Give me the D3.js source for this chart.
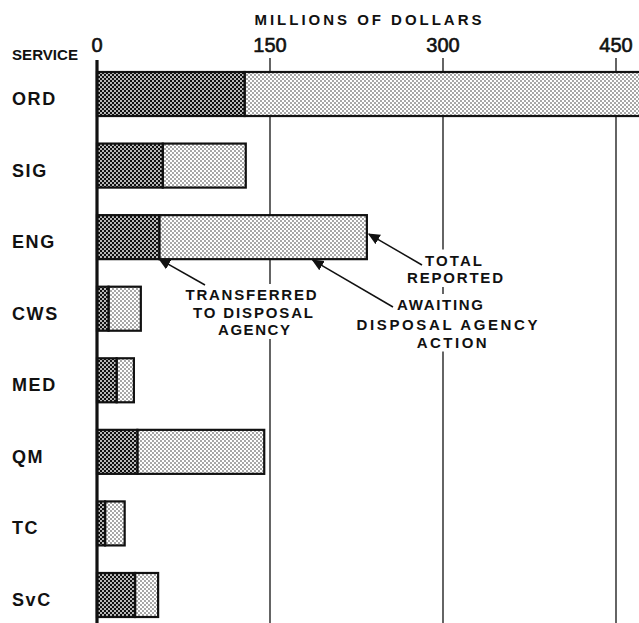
<!DOCTYPE html>
<html>
<head>
<meta charset="utf-8">
<script src="https://cdn.jsdelivr.net/npm/d3@7"></script>
<style>
  html, body { margin: 0; padding: 0; background: #fff; }
  svg { display: block; }
  text { font-family: "Liberation Sans", Arial, sans-serif; font-weight: bold; fill: #111; }
</style>
</head>
<body>
<script>
// ---- data ----
const categories = ["ORD", "SIG", "ENG", "CWS", "MED", "QM", "TC", "SvC"];
const transferred = [128, 57, 54, 10, 17, 35, 7, 33];     // transferred to disposal agency
const totalReported = [480, 129, 234, 38, 32, 145, 24, 53]; // total reported
const tickValues = [0, 150, 300, 450];
const axisTitle = "MILLIONS OF DOLLARS";
const categoryTitle = "SERVICE";

const W = 639, H = 623;
const svg = d3.select("body").append("svg").attr("width", W).attr("height", H);

const defs = svg.append("defs");
const dark = defs.append("pattern").attr("id", "dark").attr("patternUnits", "userSpaceOnUse")
  .attr("width", 4).attr("height", 4);
dark.append("rect").attr("width", 4).attr("height", 4).attr("fill", "#111");
dark.append("circle").attr("cx", 1).attr("cy", 1).attr("r", 0.95).attr("fill", "#fff");
dark.append("circle").attr("cx", 3).attr("cy", 3).attr("r", 0.95).attr("fill", "#fff");

const light = defs.append("pattern").attr("id", "light").attr("patternUnits", "userSpaceOnUse")
  .attr("width", 4).attr("height", 4);
light.append("rect").attr("width", 4).attr("height", 4).attr("fill", "#fff");
light.append("circle").attr("cx", 1).attr("cy", 1).attr("r", 0.72).attr("fill", "#222");
light.append("circle").attr("cx", 3).attr("cy", 3).attr("r", 0.72).attr("fill", "#222");

const arrow = defs.append("marker").attr("id", "arrow").attr("viewBox", "0 0 10 10")
  .attr("refX", 9).attr("refY", 5).attr("markerWidth", 12).attr("markerHeight", 12)
  .attr("markerUnits", "userSpaceOnUse").attr("orient", "auto");
arrow.append("path").attr("d", "M0,0.5 L10,5 L0,9.5 Z").attr("fill", "#111");

const x = d3.scaleLinear().domain([0, 450]).range([97, 616]);
const y = d3.scaleBand().domain(categories).range([72, 617]).paddingInner(0.385).paddingOuter(0);

// gridlines + ticks
const gridTop = 58, gridBottom = 623;
svg.append("g").selectAll("line").data(tickValues.filter(v => v > 0)).join("line")
  .attr("x1", d => x(d)).attr("x2", d => x(d))
  .attr("y1", gridTop).attr("y2", gridBottom)
  .attr("stroke", "#111").attr("stroke-width", 1.3);

// tick labels
svg.append("g").selectAll("text").data(tickValues).join("text")
  .attr("x", d => x(d)).attr("y", 52)
  .attr("text-anchor", "middle").attr("font-size", 20)
  .style("font-weight", "normal").attr("stroke", "#111").attr("stroke-width", 0.6)
  .text(d => d);

svg.append("text").attr("x", 368).attr("y", 25).attr("text-anchor", "middle")
  .attr("font-size", 15).attr("textLength", 227).attr("lengthAdjust", "spacing")
  .text(axisTitle);

svg.append("text").attr("x", 12).attr("y", 60)
  .attr("font-size", 15).attr("textLength", 66).attr("lengthAdjust", "spacingAndGlyphs")
  .text(categoryTitle);

// bars
const rows = categories.map((c, i) => ({ c, t: transferred[i], tot: totalReported[i] }));
const bars = svg.append("g");
bars.selectAll("rect.light").data(rows).join("rect").attr("class", "light")
  .attr("x", d => x(d.t)).attr("y", d => y(d.c))
  .attr("width", d => x(d.tot) - x(d.t)).attr("height", y.bandwidth())
  .attr("fill", "url(#light)").attr("stroke", "#111").attr("stroke-width", 2.2);
bars.selectAll("rect.dark").data(rows).join("rect").attr("class", "dark")
  .attr("x", x(0)).attr("y", d => y(d.c))
  .attr("width", d => x(d.t) - x(0)).attr("height", y.bandwidth())
  .attr("fill", "url(#dark)").attr("stroke", "#111").attr("stroke-width", 2.2);

// y axis line
svg.append("line").attr("x1", x(0)).attr("x2", x(0)).attr("y1", 60).attr("y2", gridBottom)
  .attr("stroke", "#111").attr("stroke-width", 3.2);

// category labels
svg.append("g").selectAll("text").data(categories).join("text")
  .attr("x", 12).attr("y", d => y(d) + y.bandwidth() / 2 + 11)
  .attr("font-size", 18).attr("letter-spacing", 1.6)
  .text(d => d);

// annotations
const eng = rows[categories.indexOf("ENG")];
const yEng = y("ENG"), bh = y.bandwidth();

function block(lines, boxPad) {
  const g = svg.append("g");
  const xs = lines.map(l => [l.cx - l.w / 2, l.cx + l.w / 2]);
  const x0 = d3.min(xs, d => d[0]) - boxPad, x1 = d3.max(xs, d => d[1]) + boxPad;
  const y0 = d3.min(lines, l => l.by) - 16, y1 = d3.max(lines, l => l.by) + 4;
  g.append("rect").attr("x", x0).attr("y", y0).attr("width", x1 - x0).attr("height", y1 - y0).attr("fill", "#fff");
  g.selectAll("text").data(lines).join("text")
    .attr("x", l => l.cx).attr("y", l => l.by).attr("text-anchor", "middle")
    .attr("font-size", 15).attr("textLength", l => l.w).attr("lengthAdjust", "spacing")
    .text(l => l.t);
}
block([{ t: "TOTAL", cx: 453.5, by: 265.5, w: 57 }, { t: "REPORTED", cx: 455, by: 283, w: 96 }], 3);
block([{ t: "AWAITING", cx: 440, by: 310, w: 86 }, { t: "DISPOSAL AGENCY", cx: 447, by: 329.5, w: 181 },
       { t: "ACTION", cx: 451.7, by: 347.5, w: 70 }], 3);
block([{ t: "TRANSFERRED", cx: 251, by: 300, w: 131 }, { t: "TO DISPOSAL", cx: 253, by: 317.5, w: 120 },
       { t: "AGENCY", cx: 254, by: 335, w: 72 }], 3);

const arrows = [
  { x1: 422, y1: 265, x2: x(eng.tot) + 2, y2: yEng + bh * 0.43 },
  { x1: 393, y1: 307, x2: x(187), y2: yEng + bh + 1 },
  { x1: 205, y1: 285, x2: x(eng.t), y2: yEng + bh + 0 }
];
svg.append("g").selectAll("line").data(arrows).join("line")
  .attr("x1", d => d.x1).attr("y1", d => d.y1).attr("x2", d => d.x2).attr("y2", d => d.y2)
  .attr("stroke", "#111").attr("stroke-width", 1.5).attr("marker-end", "url(#arrow)");
</script>
</body>
</html>
